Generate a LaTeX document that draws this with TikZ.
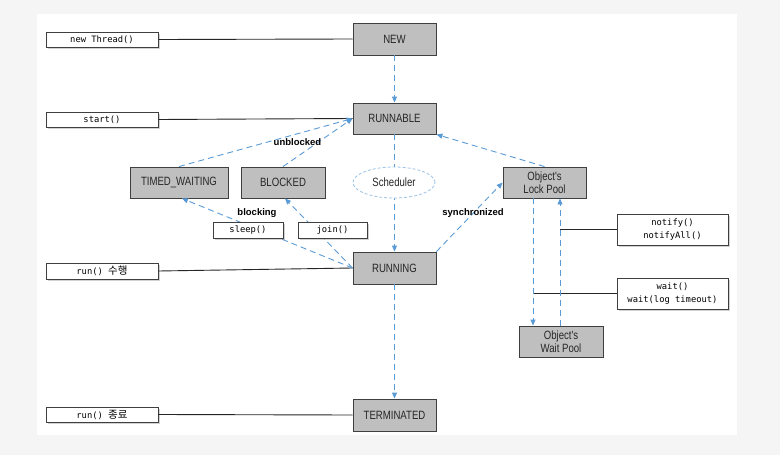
\documentclass[tikz,border=0pt]{standalone}
\usepackage{fontspec}
\setmainfont{Liberation Sans}
\newfontfamily\statefont{Liberation Sans}[FakeStretch=0.8]
\newfontfamily\codefont{DejaVu Sans Mono}
\newfontfamily\krfont{Noto Sans CJK KR}
\usetikzlibrary{arrows.meta,shapes.geometric,shadows}

\definecolor{pagebg}{HTML}{F5F5F5}
\definecolor{statefill}{HTML}{BFBFBF}
\definecolor{edgeline}{HTML}{3F3F3F}
\definecolor{flowblue}{HTML}{5B9BD5}
\definecolor{schedblue}{HTML}{9DC3E6}
\definecolor{textdark}{HTML}{262626}

\newcommand{\kr}[1]{{\krfont\fontsize{10.5}{13}\selectfont #1}}

\tikzset{
  state/.style={draw=edgeline, line width=0.9pt, fill=statefill,
    minimum width=83pt, minimum height=31pt, inner sep=1pt,
    align=center, text=textdark,
    font=\statefont\fontsize{12}{13}\selectfont,
    drop shadow={shadow xshift=1pt, shadow yshift=-1pt, fill=schedblue, opacity=0.45}},
  callbox/.style={draw=edgeline, line width=0.8pt, fill=white,
    minimum width=112pt, minimum height=15pt, inner sep=1pt,
    align=center, text=black,
    font=\codefont\fontsize{8.8}{13}\selectfont,
    drop shadow={shadow xshift=1.6pt, shadow yshift=-1.6pt, opacity=0.35}},
  flow/.style={draw=flowblue, line width=0.9pt, dash pattern=on 6pt off 4pt,
    -{Triangle[length=6pt,width=5pt]}},
  hook/.style={draw=black!85, line width=0.9pt},
  edgelabel/.style={font=\bfseries\fontsize{9.5}{11}\selectfont, text=black, inner sep=0pt}
}

\begin{document}
\begin{tikzpicture}[x=1pt,y=-1pt]
  % canvas and white panel
  \fill[pagebg] (0,0) rectangle (780,455);
  \useasboundingbox (0,0) rectangle (780,455);
  \fill[white] (37,14) rectangle (737,435);

  % thread states
  \node[state, minimum height=32pt] (new)        at (394.5,39)  {NEW};
  \node[state]                      (runnable)   at (394.5,118.5) {RUNNABLE};
  \node[state, minimum width=98pt]  (timed)      at (179,182.5) {TIMED\_WAITING};
  \node[state, minimum width=84pt]  (blocked)    at (283,182.5) {BLOCKED};
  \node[state]                      (lockpool)   at (544.5,182.5) {Object's\\Lock Pool};
  \node[state, minimum height=32pt] (running)    at (394.5,268) {RUNNING};
  \node[state, minimum width=84pt]  (waitpool)   at (561,341.5) {Object's\\Wait Pool};
  \node[state, minimum height=32pt] (terminated) at (394.5,415) {TERMINATED};

  % method calls on the left
  \node[callbox] (newthread) at (102,39.5)  {new Thread()};
  \node[callbox] (start)     at (102,119.5) {start()};
  \node[callbox, minimum height=16pt] (runexec) at (102,271) {run() \kr{수행}};
  \node[callbox] (runend)    at (102,414.5) {run() \kr{종료}};

  % method calls on the right
  \node[callbox, minimum width=111pt, minimum height=31pt] (notify) at (672.5,229.5) {notify()\\notifyAll()};
  \node[callbox, minimum width=111pt, minimum height=31pt] (wait)   at (672.5,293.5) {wait()\\wait(log timeout)};

  % x positions of the two wait-pool lanes
  \coordinate (downlane) at (533,0);
  \coordinate (uplane)   at (560,0);

  % black ties from calls to states
  \draw[hook] (newthread.east) -- (new.west);
  \draw[hook] (start.east) -- (runnable.west);
  \draw[hook] (runexec.east) -- (running.west);
  \draw[hook] (runend.east) -- (terminated.west);
  \draw[hook] (notify.west) -- (notify.west -| uplane);
  \draw[hook] (wait.west) -- (wait.west -| downlane);

  % state transitions
  \draw[flow] (new.south) -- (runnable.north);
  \draw[flow] (runnable.south) -- (running.north);
  \draw[flow] (running.south) -- (terminated.north);
  \draw[flow] (timed.north) -- (runnable.west);
  \draw[flow] (blocked.north) -- (runnable.west);
  \draw[flow] (running.west) -- ([xshift=3pt]timed.south);
  \draw[flow] (running.west) -- ([xshift=2pt]blocked.south);
  \draw[flow] (running.north east) -- (lockpool.west);
  \draw[flow] (lockpool.north) -- (runnable.south east);
  \draw[flow] (lockpool.south -| downlane) -- (waitpool.north -| downlane);
  \draw[flow] (waitpool.north -| uplane) -- (lockpool.south -| uplane);

  % scheduler sits on the runnable-running path
  \node[ellipse, draw=schedblue, fill=white, line width=0.8pt,
        dash pattern=on 3pt off 2pt, minimum width=82pt, minimum height=31pt,
        inner sep=0pt, font=\statefont\fontsize{12}{13}\selectfont, text=textdark]
        (scheduler) at (394,182.5) {Scheduler};

  % blocking calls drawn over the transitions
  \node[callbox, minimum width=70pt, minimum height=16pt] (sleep) at (248,230) {sleep()};
  \node[callbox, minimum width=69pt, minimum height=16pt] (join)  at (332.5,230) {join()};

  % transition labels
  \node[edgelabel] (unblocked)    at (297.5,142) {unblocked};
  \node[edgelabel] (blocking)     at (257,213)   {blocking};
  \node[edgelabel] (synchronized) at (473,213)   {synchronized};
\end{tikzpicture}
\end{document}
